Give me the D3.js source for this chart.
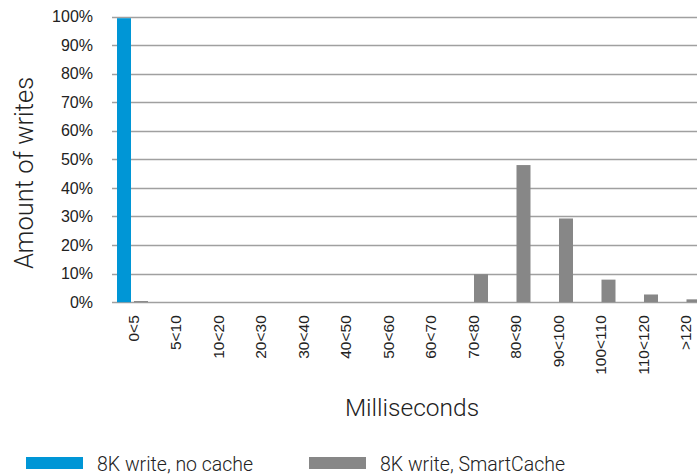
<!DOCTYPE html>
<html>
<head>
<meta charset="utf-8">
<script src="https://cdn.jsdelivr.net/npm/d3@7"></script>
<style>
  body { margin: 0; background: #fff; }
  svg { display: block; font-family: Roboto, "Liberation Sans", sans-serif; }
</style>
</head>
<body>
<svg id="chart" width="697" height="476"></svg>
<script>
// histogram of write latency
const categories = ['0<5', '5<10', '10<20', '20<30', '30<40', '40<50', '50<60',
                    '60<70', '70<80', '80<90', '90<100', '100<110', '110<120', '>120'];
const noCache    = [99.4, 0, 0, 0, 0, 0, 0, 0, 0, 0, 0, 0, 0, 0];
const smartCache = [0.4, 0, 0, 0, 0, 0, 0, 0, 9.8, 48, 29.3, 7.9, 2.7, 1.0];
const seriesNames = ['8K write, no cache', '8K write, SmartCache'];
const yTicks = [0, 10, 20, 30, 40, 50, 60, 70, 80, 90, 100];

const colors = ['#0096d6', '#878787'];
const gridColor = '#a0a0a0';

let svg = d3.select('#chart');
let plotLeft = 112, plotTop = 16.5, plotBottom = 302.2, plotRight = 697;

let x = d3.scaleBand()
    .domain(categories)
    .range([plotLeft, plotLeft + 42.5 * categories.length])
    .padding(0);

let xs = d3.scaleBand()
    .domain([0, 1])
    .range([5, 36])
    .paddingInner(0.176);

let y = d3.scaleLinear()
    .domain([0, 100])
    .range([plotBottom, plotTop]);

// grid lines
svg.append('g')
    .selectAll('line.grid')
    .data(yTicks)
    .enter()
    .append('line')
    .attr('class', 'grid')
    .attr('x1', plotLeft)
    .attr('x2', plotRight)
    .attr('y1', (d) => { return Math.round(y(d)) + 0.5; })
    .attr('y2', (d) => { return Math.round(y(d)) + 0.5; })
    .attr('stroke', gridColor)
    .attr('stroke-width', 1.3);

// y tick labels
let yAxis = svg.append('g')
    .attr('transform', 'translate(' + plotLeft + ',0)')
    .call(d3.axisLeft(y).tickValues(yTicks).tickSize(0).tickPadding(19)
          .tickFormat((d) => { return d + '%'; }));
yAxis.select('.domain').remove();
yAxis.selectAll('text')
    .attr('font-size', 16)
    .attr('font-weight', 500)
    .attr('fill', '#222')
    .style('font-family', 'inherit');

// bars
let rows = categories.map((c, i) => { return { cat: c, vals: [noCache[i], smartCache[i]] }; });
let groups = svg.append('g')
    .selectAll('g.cat')
    .data(rows)
    .enter()
    .append('g')
    .attr('class', 'cat')
    .attr('transform', (d) => { return 'translate(' + x(d.cat) + ',0)'; });

groups.selectAll('rect')
    .data((d) => { return d.vals.map((v, k) => { return { k: k, v: v }; }); })
    .enter()
    .append('rect')
    .attr('x', (d) => { return xs(d.k); })
    .attr('width', xs.bandwidth())
    .attr('y', (d) => { return y(d.v); })
    .attr('height', (d) => { return y(0) - y(d.v); })
    .attr('fill', (d) => { return colors[d.k]; });

// x tick labels
let xAxis = svg.append('g')
    .attr('transform', 'translate(0,' + plotBottom + ')')
    .call(d3.axisBottom(x).tickSize(0).tickPadding(0));
xAxis.select('.domain').remove();
xAxis.selectAll('text')
    .attr('transform', 'rotate(-90)')
    .attr('x', -13)
    .attr('y', 0)
    .attr('dy', '0.35em')
    .attr('text-anchor', 'end')
    .attr('font-size', 15.5)
    .attr('fill', '#222')
    .style('font-family', 'inherit');

// axis titles
svg.append('text')
    .attr('transform', 'translate(33,' + 173 + ') rotate(-90)')
    .attr('text-anchor', 'middle')
    .attr('font-size', 25.5)
    .attr('font-weight', 300)
    .attr('fill', '#222')
    .text('Amount of writes');

svg.append('text')
    .attr('x', 412)
    .attr('y', 416)
    .attr('text-anchor', 'middle')
    .attr('font-size', 24.5)
    .attr('font-weight', 300)
    .attr('fill', '#222')
    .text('Milliseconds');

// legend
let legendX = [26, 309];
let legend = svg.append('g')
    .selectAll('g.legend')
    .data(seriesNames)
    .enter()
    .append('g')
    .attr('class', 'legend')
    .attr('transform', (d, i) => { return 'translate(' + legendX[i] + ',0)'; });

legend.append('rect')
    .attr('x', 0)
    .attr('y', 457)
    .attr('width', 57)
    .attr('height', 12)
    .attr('fill', (d, i) => { return colors[i]; });

legend.append('text')
    .attr('x', 71)
    .attr('y', 471)
    .attr('font-size', 19.5)
    .attr('font-weight', 300)
    .attr('fill', '#222')
    .text((d) => { return d; });
</script>
</body>
</html>
